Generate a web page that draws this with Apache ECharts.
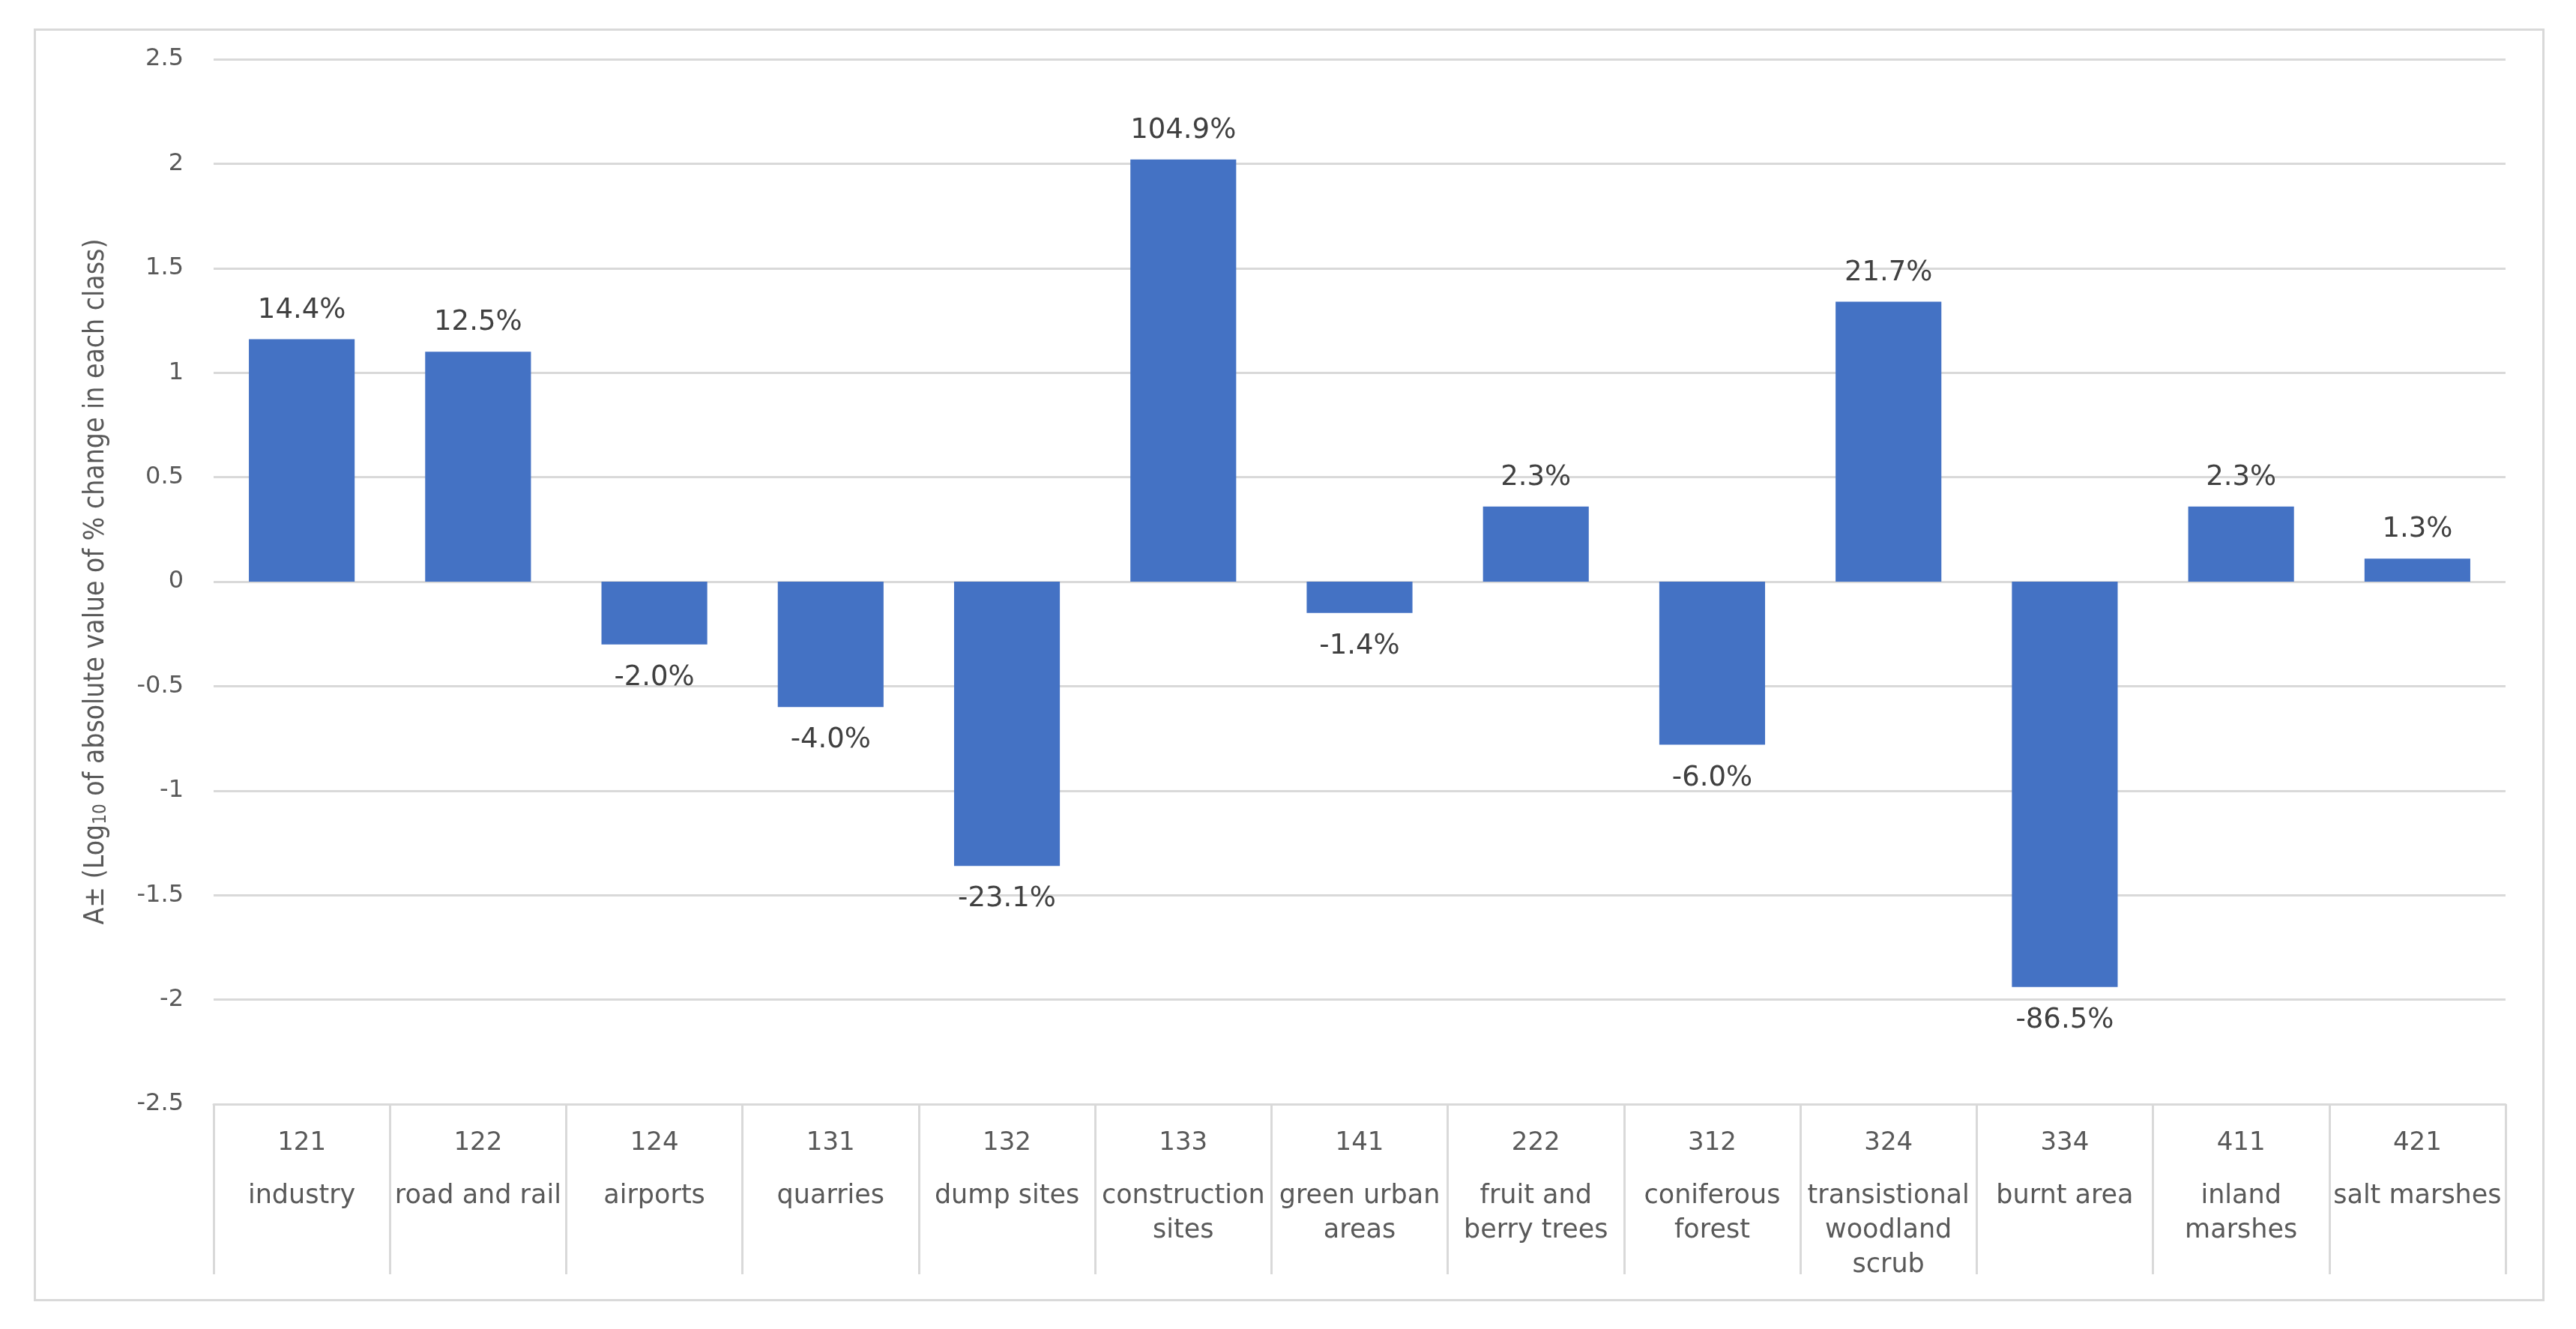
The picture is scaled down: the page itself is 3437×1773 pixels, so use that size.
<!DOCTYPE html>
<html>
<head>
<meta charset="utf-8">
<script src="https://cdn.jsdelivr.net/npm/echarts@6/dist/echarts.min.js"></script>
<style>
html,body{margin:0;padding:0;background:#fff;}
#chart{width:3437px;height:1773px;}
</style>
</head>
<body>
<div id="chart"></div>
<script>
// Data
const codes = ['121','122','124','131','132','133','141','222','312','324','334','411','421'];
const names = [
  ['industry'], ['road and rail'], ['airports'], ['quarries'], ['dump sites'],
  ['construction','sites'], ['green urban','areas'], ['fruit and','berry trees'],
  ['coniferous','forest'], ['transistional','woodland','scrub'], ['burnt area'],
  ['inland','marshes'], ['salt marshes']
];
const values = [1.16, 1.10, -0.30, -0.60, -1.36, 2.02, -0.15, 0.36, -0.78, 1.34, -1.94, 0.36, 0.11];
const pctLabels = ['14.4%','12.5%','-2.0%','-4.0%','-23.1%','104.9%','-1.4%','2.3%','-6.0%','21.7%','-86.5%','2.3%','1.3%'];
const yTicks = [-2.5,-2,-1.5,-1,-0.5,0,0.5,1,1.5,2,2.5];

const chart = echarts.init(document.getElementById('chart'));
const seriesData = values.map((v, i) => ({
  value: v,
  label: { position: v >= 0 ? 'top' : 'bottom', distance: v >= 0 ? 20 : 26, formatter: pctLabels[i] }
}));

const nameFont = "'DejaVu Sans Condensed', 'Liberation Sans', sans-serif";

chart.setOption({
  animation: false,
  backgroundColor: '#ffffff',
  graphic: [{
    type: 'rect', left: 44, top: 37, silent: true,
    shape: { width: 3347, height: 1695 },
    style: { fill: 'none', stroke: '#d9d9d9', lineWidth: 3 }
  }],
  grid: { left: 285, right: 94, top: 79, bottom: 300 },
  xAxis: {
    type: 'category',
    data: codes,
    axisLine: { onZero: false, lineStyle: { color: '#d9d9d9', width: 3 } },
    axisTick: { show: true, interval: 0, length: 227, lineStyle: { color: '#d9d9d9', width: 3 } },
    axisLabel: {
      interval: 0, margin: 4,
      formatter: (val, idx) => {
        const i = codes.indexOf(val);
        return '{c|' + val + '}\n' + names[i].map(n => '{n|' + n + '}').join('\n');
      },
      rich: {
        c: { fontFamily: 'DejaVu Sans', fontSize: 34, color: '#595959', lineHeight: 96 },
        n: { fontFamily: 'DejaVu Sans', fontSize: 35, color: '#595959', lineHeight: 46 }
      }
    }
  },
  yAxis: {
    type: 'value',
    min: -2.5, max: 2.5, interval: 0.5,
    axisLine: { show: false },
    axisTick: { show: false },
    splitLine: { lineStyle: { color: '#d9d9d9', width: 3 } },
    axisLabel: {
      margin: 40, fontFamily: 'DejaVu Sans', fontSize: 32, color: '#595959',
      formatter: v => String(v)
    },
    name: '{a|A± (Log}{s|10}{a| of absolute value of % change in each class)}',
    nameLocation: 'middle',
    nameRotate: 90,
    nameGap: 138,
    nameTextStyle: {
      rich: {
        a: { fontFamily: nameFont, fontSize: 37, color: '#595959', verticalAlign: 'bottom', lineHeight: 42 },
        s: { fontFamily: nameFont, fontSize: 24, color: '#595959', verticalAlign: 'bottom', lineHeight: 32 }
      }
    }
  },
  series: [{
    type: 'bar',
    data: seriesData,
    barWidth: '60%',
    itemStyle: { color: '#4472c4' },
    label: {
      show: true,
      fontFamily: 'DejaVu Sans', fontSize: 37, color: '#404040'
    }
  }]
});
</script>
</body>
</html>
